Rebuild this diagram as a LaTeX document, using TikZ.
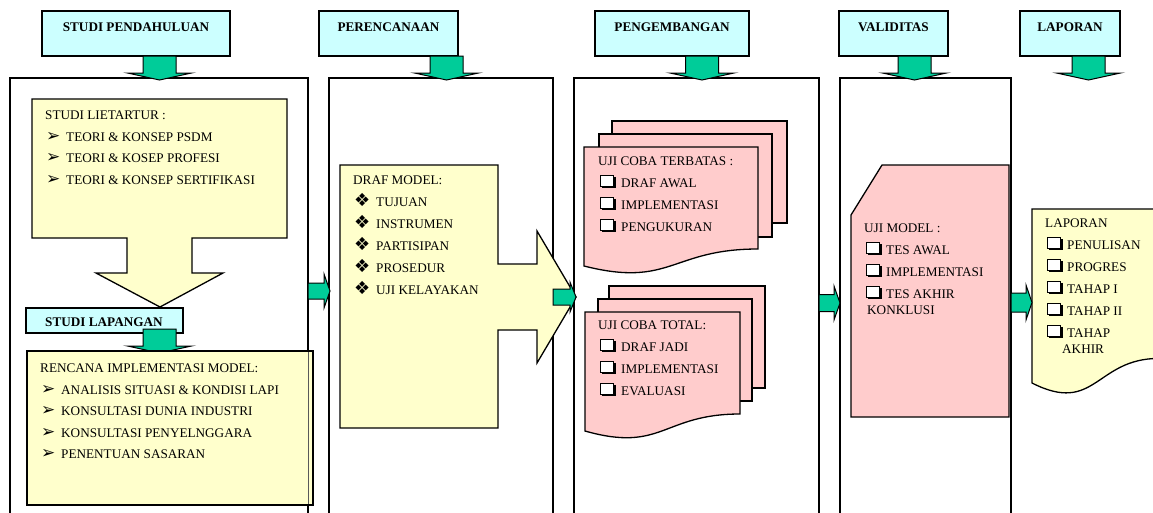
\documentclass[tikz,border=0pt]{standalone}
\usepackage{fontspec}
\setmainfont{Liberation Serif}
\newfontfamily\dv{DejaVu Sans}
\definecolor{hdrc}{HTML}{CCFFFF}
\definecolor{yel}{HTML}{FFFFCC}
\definecolor{grn}{HTML}{00CC99}
\definecolor{pnk}{HTML}{FFCCCC}
\newcommand\BArr{\makebox[21pt][l]{\hspace*{1pt}{\dv\fontsize{17}{17}\selectfont ➢}}}
\newcommand\BDia{\makebox[23pt][l]{\hspace*{1pt}{\dv\fontsize{18}{18}\selectfont ❖}}}
\newcommand\ChkGlyph{\tikz[baseline=0pt,x=1pt,y=1pt]{\fill[black] (2,-0.5) rectangle (15.5,10.5); \draw[black,fill=white,line width=0.9pt] (0.5,1.5) rectangle (13.5,12.5);}}
\newcommand\BBox{\makebox[23pt][l]{\hspace*{2pt}\ChkGlyph}}
\newcommand\BBoxB{\makebox[22pt][l]{\hspace*{2pt}\ChkGlyph}}
\newcommand\DArr[2]{\draw[garrow] (#1-16.5,#2) -- (#1+16.5,#2) -- (#1+16.5,#2+17) -- (#1+32,#2+17) -- (#1,#2+24) -- (#1-32,#2+17) -- (#1-16.5,#2+17) -- cycle;}
\newcommand\RArr[5]{\draw[garrow] (#1,#3-#4) -- (#2-6,#3-#4) -- (#2-6,#3-#5) -- (#2,#3) -- (#2-6,#3+#5) -- (#2-6,#3+#4) -- (#1,#3+#4) -- cycle;}
\begin{document}
\begin{tikzpicture}[x=1pt,y=-1pt,line join=miter,
  txt/.style={font=\fontsize{13.2}{15.5}\selectfont, align=left, inner sep=0pt, anchor=north west},
  hlbl/.style={font=\bfseries\fontsize{13.2}{15.5}\selectfont, inner sep=0pt, anchor=base},
  box/.style={draw=black, line width=1.3pt},
  garrow/.style={draw=black, fill=grn, line width=1pt}]
\useasboundingbox (0,0) rectangle (1153,512);
\fill[white] (0,0) rectangle (1153,512);

% headers
\draw[box, fill=hdrc] (42,11) rectangle (230,56);
\node[hlbl] (hPend) at (136,31.4) {STUDI PENDAHULUAN};
\draw[box, fill=hdrc] (319,11) rectangle (458,56);
\node[hlbl] (hPer) at (388.5,31.4) {PERENCANAAN};
\draw[box, fill=hdrc] (595,11) rectangle (749,56);
\node[hlbl] (hPeng) at (672,31.4) {PENGEMBANGAN};
\draw[box, fill=hdrc] (839,11) rectangle (948,56);
\node[hlbl] (hVal) at (893.5,31.4) {VALIDITAS};
\draw[box, fill=hdrc] (1020,11) rectangle (1120,56);
\node[hlbl] (hLap) at (1070,31.4) {LAPORAN};

% columns
\draw[box, fill=white] (10,78) rectangle (308,530);
\draw[box, fill=white] (329,78) rectangle (553,530);
\draw[box, fill=white] (574,78) rectangle (819,530);
\draw[box, fill=white] (840,78) rectangle (1011,530);

% down arrows
\DArr{159.5}{56}
\DArr{446.5}{56}
\DArr{702}{56}
\DArr{914.5}{56}
\DArr{1088.5}{56}

% column 1
\draw[box, fill=yel] (32,99) -- (287,99) -- (287,238) -- (192,238) -- (192,273) -- (223,273) -- (160,307) -- (96,273) -- (127,273) -- (127,238) -- (32,238) -- cycle;
\node[txt] (lit) at (45,110.6) {STUDI LIETARTUR :\\[6.2pt]\BArr TEORI \& KONSEP PSDM\\[6.2pt]\BArr TEORI \& KOSEP PROFESI\\[6.2pt]\BArr TEORI \& KONSEP SERTIFIKASI};
\draw[box, fill=hdrc] (26,308) rectangle (183,333);
\node[hlbl, anchor=base west] (hLapangan) at (45,326.4) {STUDI LAPANGAN};
\DArr{159.5}{329}
\draw[box, fill=yel] (27,351) rectangle (313,505);
\draw[black!65, line width=1pt] (308,352) -- (308,504);
\node[txt] (ren) at (40,363.6) {RENCANA IMPLEMENTASI MODEL:\\[6pt]\BArr ANALISIS SITUASI \& KONDISI LAPI\\[6pt]\BArr KONSULTASI DUNIA INDUSTRI\\[6pt]\BArr KONSULTASI PENYELNGGARA\\[6pt]\BArr PENENTUAN SASARAN};

% column 2
\draw[box, fill=yel] (340,165) -- (498,165) -- (498,264) -- (537,264) -- (537,231) -- (576,297) -- (537,363) -- (537,330) -- (498,330) -- (498,428) -- (340,428) -- cycle;
\node[txt] (draf) at (353,175.6) {DRAF MODEL:\\[6.5pt]\BDia TUJUAN\\[6.5pt]\BDia INSTRUMEN\\[6.5pt]\BDia PARTISIPAN\\[6.5pt]\BDia PROSEDUR\\[6.5pt]\BDia UJI KELAYAKAN};

% column 3
\draw[box, fill=pnk] (612,121) rectangle (787,223);
\draw[box, fill=pnk] (599,134) rectangle (772,237);
\draw[box, fill=pnk] (584,147) -- (758,147) -- (758,249) .. controls (671,249) and (671,288) .. (584,266) -- cycle;
\node[txt] (ujt) at (598,156.6) {UJI COBA TERBATAS :\\[6.5pt]\BBox DRAF AWAL\\[6.5pt]\BBox IMPLEMENTASI\\[6.5pt]\BBox PENGUKURAN};
\draw[box, fill=pnk] (609,286) rectangle (765,388);
\draw[box, fill=pnk] (598,299) rectangle (752,401);
\draw[box, fill=pnk] (585,312) -- (740,312) -- (740,414) .. controls (662.5,414) and (662.5,453) .. (585,431) -- cycle;
\node[txt] (ujtot) at (598,320.6) {UJI COBA TOTAL:\\[6.5pt]\BBox DRAF JADI\\[6.5pt]\BBox IMPLEMENTASI\\[6.5pt]\BBox EVALUASI};

% column 4
\draw[box, fill=pnk] (882,165) -- (1009,165) -- (1009,417) -- (851,417) -- (851,215) -- cycle;
\node[txt] (ujm) at (864,223.6) {UJI MODEL :\\[6.5pt]\BBoxB TES AWAL\\[6.5pt]\BBoxB IMPLEMENTASI\\[6.5pt]\BBoxB TES AKHIR\\\hspace*{3pt}KONKLUSI};

% laporan
\draw[box, fill=yel] (1032,209) -- (1159,209) -- (1159,358.4) .. controls (1095.5,358.4) and (1095.5,415.2) .. (1032,383) -- cycle;
\node[txt] (lapt) at (1045,218.6) {LAPORAN\\[6.5pt]\BBoxB PENULISAN\\[6.5pt]\BBoxB PROGRES\\[6.5pt]\BBoxB TAHAP I\\[6.5pt]\BBoxB TAHAP II\\[6.5pt]\BBoxB TAHAP\\\hspace*{17pt}AKHIR};

% right arrows
\RArr{308}{330}{291}{8}{17}
\RArr{553}{576}{297}{8}{15}
\RArr{819}{840}{303}{8.5}{17}
\RArr{1011}{1032}{302.5}{9.5}{17.5}
\end{tikzpicture}
\end{document}
